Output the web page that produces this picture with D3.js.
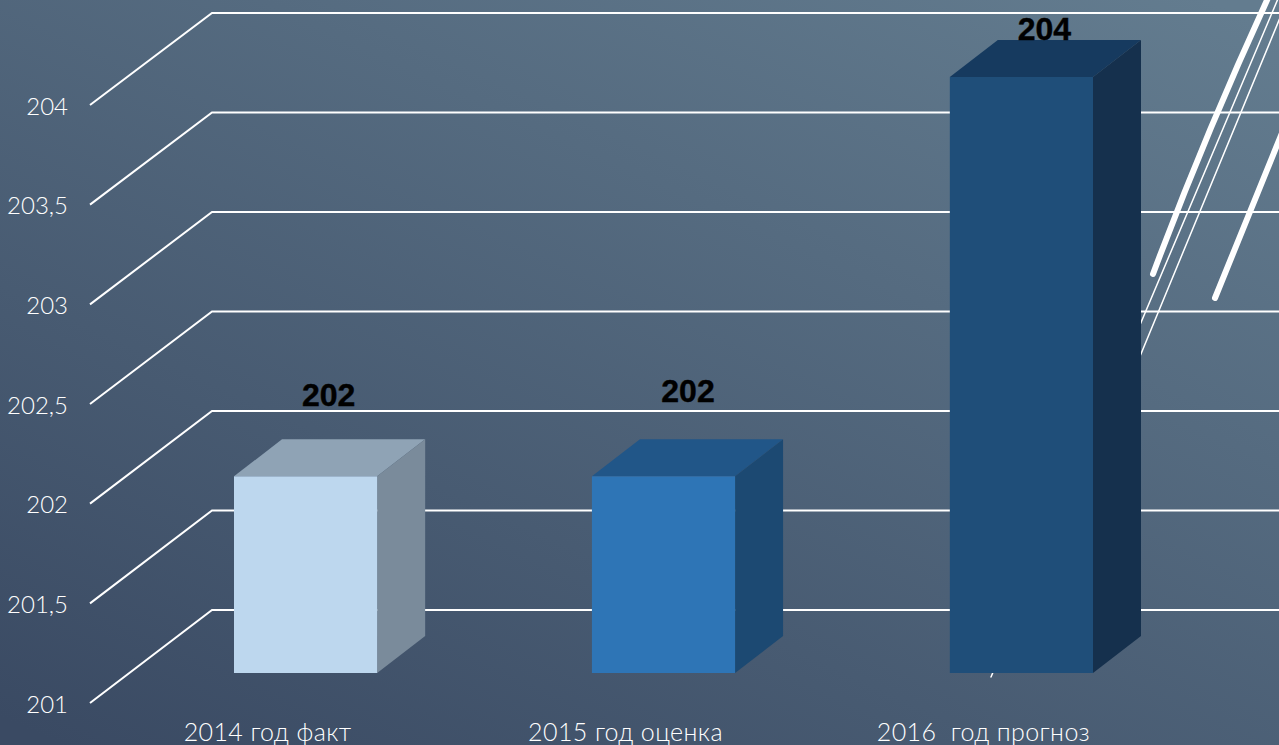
<!DOCTYPE html>
<html>
<head>
<meta charset="utf-8">
<script src="https://cdn.jsdelivr.net/npm/d3@7"></script>
<style>
html, body { margin: 0; padding: 0; overflow: hidden; background: #4d6176; }
svg { display: block; }
</style>
</head>
<body>
<svg id="chart"></svg>
<script>
const categories = ['2014 год факт', '2015 год оценка', '2016  год прогноз'];
const barValues = [201.99, 201.99, 204];
const tickValues = [201, 201.5, 202, 202.5, 203, 203.5, 204];

const frontColors = ['#bdd7ee', '#2e75b6', '#1f4e79'];
const topColors = ['#8fa3b5', '#215688', '#163a5f'];
const sideColors = ['#7a8b9b', '#1c4972', '#15304d'];

const width = 1279;
const height = 745;

const barDepth = { x: 48, y: -37 };

const svg = d3.select('#chart')
    .attr('width', width)
    .attr('height', height);

const grad = svg.append('defs').append('linearGradient')
    .attr('id', 'bg')
    .attr('gradientUnits', 'userSpaceOnUse')
    .attr('x1', 400).attr('y1', 900)
    .attr('x2', 880).attr('y2', -150);
grad.append('stop').attr('offset', '0%').attr('stop-color', '#3a4a63');
grad.append('stop').attr('offset', '100%').attr('stop-color', '#637c8f');

svg.append('rect')
    .attr('width', width)
    .attr('height', height)
    .attr('fill', 'url(#bg)');

// wall lines start on the front edge and run to the back edge
const yFront = d3.scaleLinear().domain([201, 204]).range([703, 105]);
const yBack = d3.scaleLinear().domain([201, 204]).range([610, 13]);
const yBar = d3.scaleLinear().domain([201, 204]).range([673, 77]);
const x = d3.scaleBand()
    .domain(categories)
    .range([234, 1093])
    .paddingInner(0.6)
    .paddingOuter(0);

const grid = svg.append('g');
tickValues.forEach(t => {
    grid.append('polyline')
        .attr('points', `90,${yFront(t)} 212,${yBack(t)} ${width},${yBack(t)}`)
        .attr('fill', 'none')
        .attr('stroke', '#fff')
        .attr('stroke-width', 2);
});

// decoration of the slide theme, the thin ones pass behind the last bar
const slash = svg.append('g').attr('stroke', '#fff').attr('stroke-linecap', 'round');
slash.append('line').attr('x1', 991).attr('y1', 677).attr('x2', 1280).attr('y2', -6).attr('stroke-width', 1.5);
slash.append('line').attr('x1', 1100).attr('y1', 453).attr('x2', 1282).attr('y2', 13).attr('stroke-width', 1.5);
slash.append('path')
    .attr('d', 'M1153,274 Q1205,135 1268,-2')
    .attr('fill', 'none')
    .attr('stroke-width', 6);
slash.append('line').attr('x1', 1215).attr('y1', 298).attr('x2', 1282).attr('y2', 133).attr('stroke-width', 6);

// 3d bars: top, side, then front
const bars = svg.append('g').selectAll('g')
    .data(categories)
    .join('g');

bars.append('polygon')
    .attr('fill', (d, i) => topColors[i])
    .attr('points', (d, i) => {
        const l = x(d), r = l + x.bandwidth(), t = yBar(barValues[i]);
        return [[l, t], [r, t], [r + barDepth.x, t + barDepth.y], [l + barDepth.x, t + barDepth.y]].join(' ');
    });

bars.append('polygon')
    .attr('fill', (d, i) => sideColors[i])
    .attr('points', (d, i) => {
        const r = x(d) + x.bandwidth(), t = yBar(barValues[i]), b = yBar(201);
        return [[r, t], [r + barDepth.x, t + barDepth.y], [r + barDepth.x, b + barDepth.y], [r, b]].join(' ');
    });

bars.append('rect')
    .attr('fill', (d, i) => frontColors[i])
    .attr('x', d => x(d))
    .attr('y', (d, i) => yBar(barValues[i]))
    .attr('width', x.bandwidth())
    .attr('height', (d, i) => yBar(201) - yBar(barValues[i]));

// value labels, the slide has them placed by hand
const labelShift = [
    { dx: 23, dy: -33 },
    { dx: 24.5, dy: -37 },
    { dx: 23, dy: 0 }
];
svg.append('g').selectAll('text')
    .data(categories)
    .join('text')
    .attr('x', (d, i) => x(d) + x.bandwidth() / 2 + labelShift[i].dx)
    .attr('y', (d, i) => yBar(barValues[i]) + barDepth.y + labelShift[i].dy)
    .attr('text-anchor', 'middle')
    .attr('font-family', '"Liberation Sans", Arial, sans-serif')
    .attr('font-weight', 'bold')
    .attr('font-size', 32)
    .attr('fill', '#000')
    .attr('stroke', '#000')
    .attr('stroke-width', 0.4)
    .text((d, i) => d3.format('.0f')(barValues[i]));

// y axis labels
const comma = d3.formatLocale({ decimal: ',', thousands: ' ', grouping: [3], currency: ['', ''] });
const yAxis = d3.axisLeft(yFront)
    .tickValues(tickValues)
    .tickSize(0)
    .tickPadding(0)
    .tickFormat(v => comma.format('~g')(v));

const axisG = svg.append('g')
    .attr('transform', 'translate(68,1.5)')
    .call(yAxis);
axisG.select('.domain').remove();
axisG.selectAll('text')
    .attr('font-family', 'Lato, sans-serif')
    .attr('font-weight', 300)
    .attr('font-size', 24)
    .attr('fill', '#fff');

// category labels sit left of the bars
svg.append('g').selectAll('text')
    .data(categories)
    .join('text')
    .attr('x', d => x(d) + x.bandwidth() / 2 - 38)
    .attr('y', 741)
    .attr('text-anchor', 'middle')
    .attr('font-family', 'Lato, sans-serif')
    .attr('font-weight', 300)
    .attr('font-size', 25)
    .attr('letter-spacing', 0.4)
    .style('white-space', 'pre')
    .attr('fill', '#fff')
    .text(d => d);
</script>
</body>
</html>
